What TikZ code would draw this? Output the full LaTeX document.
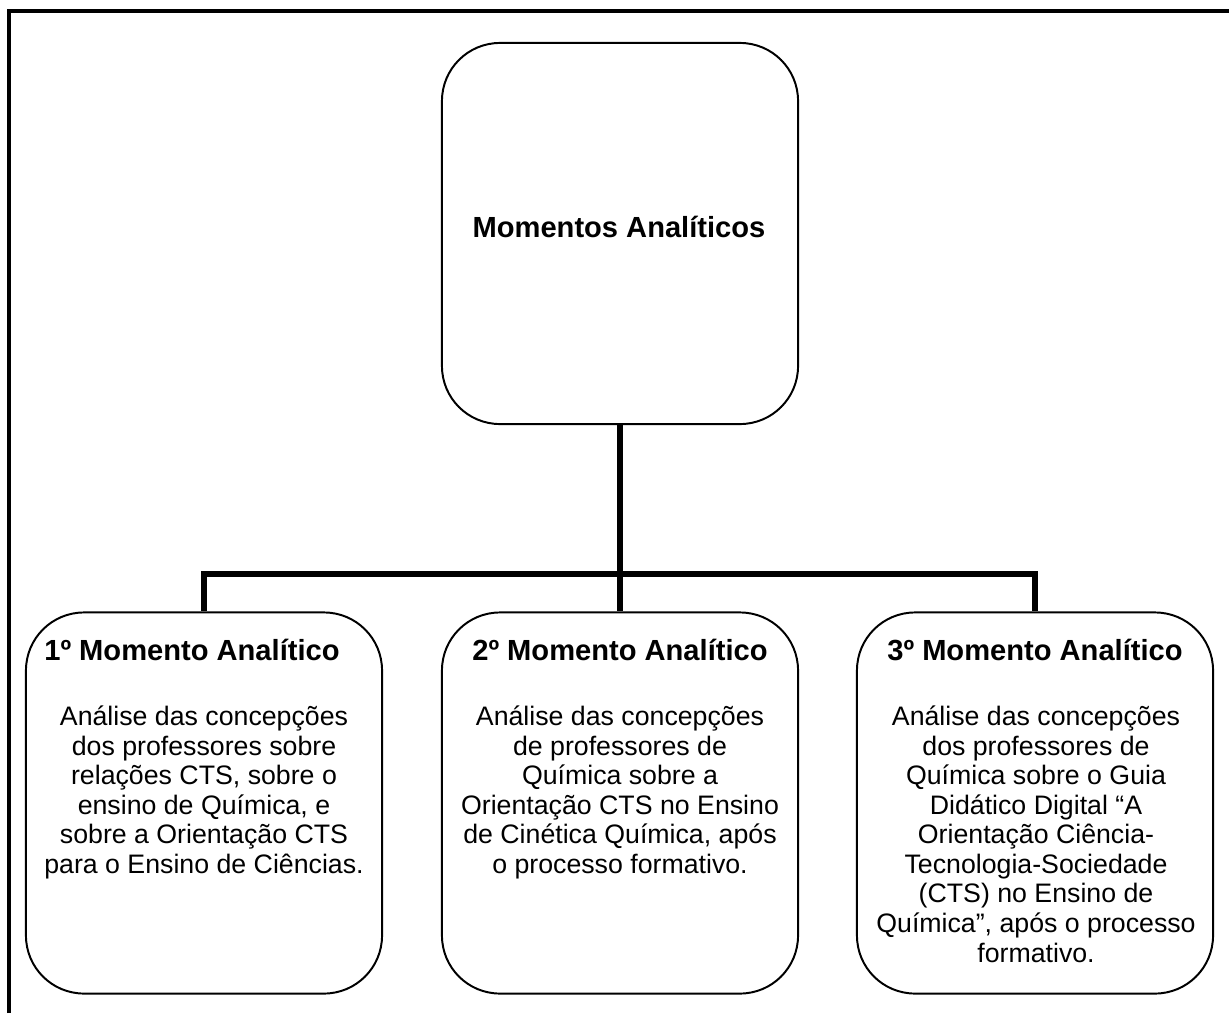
\documentclass[tikz,border=0pt]{standalone}
\usepackage{fontspec}
\setmainfont{Liberation Sans}
\tikzset{
  caixa/.style={draw, line width=1.4pt, rounded corners=1.45cm,
    minimum width=8.9cm, minimum height=9.525cm, inner sep=0pt},
  ligacao/.style={line width=3.6pt},
  titulo/.style={font=\fontsize{20.7}{24}\selectfont\bfseries, anchor=base, inner sep=0pt},
  texto/.style={font=\fontsize{19}{21}\selectfont, align=center, anchor=base, inner sep=0pt},
}
\begin{document}
\begin{tikzpicture}[x=0.025cm, y=-0.025cm]
		\useasboundingbox (0,0) rectangle (1229,1013);
		% Moldura
		\draw[line width=2.2pt] (9,1013) -- (9,11) -- (1229,11);
		
		% Caixas
		\node[caixa] (topo) at (620,233.5) {};
		\node[caixa] (m1) at (204,803) {};
		\node[caixa] (m2) at (620,803) {};
		\node[caixa] (m3) at (1035,803) {};
		
		% Textos (base = ultima linha)
		\node[titulo] (topoTit) at (619,237) {Momentos Analíticos};
		\node[titulo] (m1Tit) at (192,660) {1º Momento Analítico};
		\node[titulo] (m2Tit) at (620,660) {2º Momento Analítico};
		\node[titulo] (m3Tit) at (1035,660) {3º Momento Analítico};
		\node[texto] (m1Txt) at (204,873.5) {Análise das concepções\\dos professores sobre\\relações CTS, sobre o\\ensino de Química, e\\sobre a Orientação CTS\\para o Ensino de Ciências.};
		\node[texto] (m2Txt) at (620,873.5) {Análise das concepções\\de professores de\\Química sobre a\\Orientação CTS no Ensino\\de Cinética Química, após\\o processo formativo.};
		\node[texto] (m3Txt) at (1036,962) {Análise das concepções\\dos professores de\\Química sobre o Guia\\Didático Digital “A\\Orientação Ciência-\\Tecnologia-Sociedade\\(CTS) no Ensino de\\Química”, após o processo\\formativo.};
		
		% Ligacoes
		\coordinate (junta) at (620,574);
		\draw[ligacao] (topo.south) -- (junta);
		\draw[ligacao] (m1.north) |- (junta) -| (m3.north);
		\draw[ligacao] (junta) -- (m2.north);
	\end{tikzpicture}
\end{document}
